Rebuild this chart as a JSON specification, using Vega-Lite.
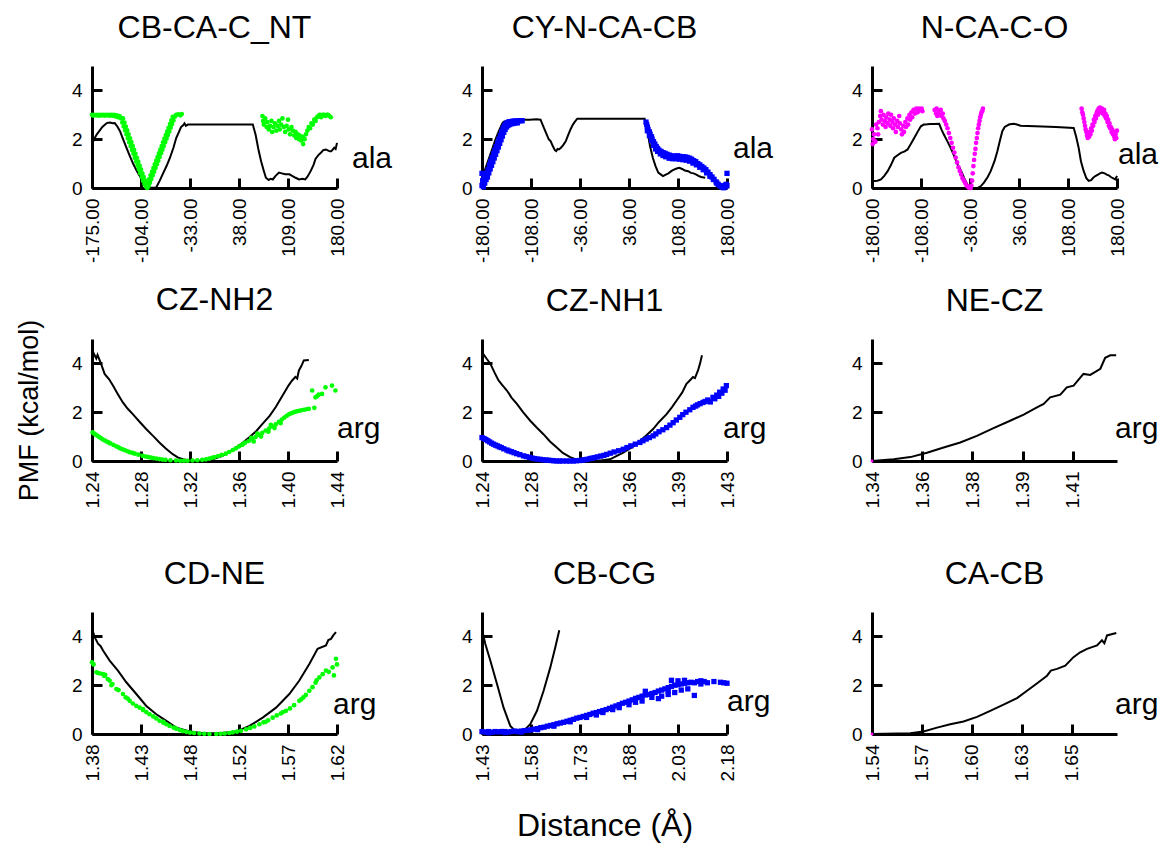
{
"$schema": "https://vega.github.io/schema/vega-lite/v6.json",
"padding": {"left": 15, "top": 12, "right": 5, "bottom": 5},
"config": {
  "font": "Liberation Sans",
  "view": {"stroke": null},
  "axis": {"grid": false, "domainColor": "#000", "domainWidth": 3, "tickColor": "#000", "tickWidth": 3, "tickSize": -10, "labelFont": "Liberation Sans", "labelFontSize": 19, "labelColor": "#000", "labelPadding": 20, "labelFlush": false, "labelOverlap": false, "titleFont": "Liberation Sans", "titleFontSize": 27, "titleFontWeight": "normal", "titleColor": "#000"},
  "axisX": {"labelAngle": -90},
  "title": {"font": "Liberation Sans", "fontSize": 32, "fontWeight": "normal", "color": "#000", "frame": "group", "offset": 21}
},
"datasets": {
  "p1_ref": [{"x":-175,"pmf":1.78},{"x":-172,"pmf":2.0},{"x":-168,"pmf":2.2},{"x":-164,"pmf":2.35},{"x":-160,"pmf":2.5},{"x":-156,"pmf":2.6},{"x":-153,"pmf":2.67},{"x":-149,"pmf":2.68},{"x":-145,"pmf":2.65},{"x":-142,"pmf":2.66},{"x":-139,"pmf":2.55},{"x":-137,"pmf":2.46},{"x":-134,"pmf":2.3},{"x":-130,"pmf":2.0},{"x":-125,"pmf":1.64},{"x":-120,"pmf":1.3},{"x":-115,"pmf":0.97},{"x":-110,"pmf":0.7},{"x":-105,"pmf":0.45},{"x":-101,"pmf":0.22},{"x":-97,"pmf":0.08},{"x":-93,"pmf":0.02},{"x":-88,"pmf":0.01},{"x":-82,"pmf":0.02},{"x":-77,"pmf":0.29},{"x":-72,"pmf":0.6},{"x":-67,"pmf":0.9},{"x":-62,"pmf":1.24},{"x":-57,"pmf":1.65},{"x":-53,"pmf":2.05},{"x":-49,"pmf":2.3},{"x":-46,"pmf":2.5},{"x":-43,"pmf":2.57},{"x":-41,"pmf":2.65},{"x":-39,"pmf":2.55},{"x":-36,"pmf":2.6},{"x":-20,"pmf":2.6},{"x":0,"pmf":2.6},{"x":20,"pmf":2.6},{"x":40,"pmf":2.6},{"x":58,"pmf":2.6},{"x":62,"pmf":2.19},{"x":66,"pmf":1.6},{"x":70,"pmf":1.1},{"x":74,"pmf":0.7},{"x":77,"pmf":0.42},{"x":81,"pmf":0.33},{"x":84,"pmf":0.38},{"x":87,"pmf":0.35},{"x":91,"pmf":0.5},{"x":96,"pmf":0.63},{"x":100,"pmf":0.6},{"x":105,"pmf":0.56},{"x":111,"pmf":0.56},{"x":115,"pmf":0.5},{"x":120,"pmf":0.42},{"x":125,"pmf":0.35},{"x":130,"pmf":0.38},{"x":134,"pmf":0.35},{"x":137,"pmf":0.45},{"x":142,"pmf":0.7},{"x":146,"pmf":0.95},{"x":149,"pmf":1.2},{"x":153,"pmf":1.35},{"x":157,"pmf":1.45},{"x":160,"pmf":1.55},{"x":164,"pmf":1.58},{"x":168,"pmf":1.52},{"x":171,"pmf":1.5},{"x":173,"pmf":1.55},{"x":176,"pmf":1.65},{"x":178,"pmf":1.6},{"x":180,"pmf":1.85}],
  "p1_sim": [{"x":-175,"pmf":3.0},{"x":-173,"pmf":2.97},{"x":-171,"pmf":3.0},{"x":-169,"pmf":2.98},{"x":-167,"pmf":3.0},{"x":-165,"pmf":2.96},{"x":-163,"pmf":3.0},{"x":-161,"pmf":2.98},{"x":-159,"pmf":3.0},{"x":-157,"pmf":2.97},{"x":-155,"pmf":3.0},{"x":-153,"pmf":2.98},{"x":-151,"pmf":3.0},{"x":-149,"pmf":2.96},{"x":-147,"pmf":3.0},{"x":-145,"pmf":2.97},{"x":-143,"pmf":3.0},{"x":-141,"pmf":2.93},{"x":-139,"pmf":2.98},{"x":-137,"pmf":2.9},{"x":-135,"pmf":2.95},
    {"x":-133,"pmf":2.85},{"x":-131,"pmf":2.68},{"x":-129,"pmf":2.52},{"x":-127,"pmf":2.36},{"x":-125,"pmf":2.2},{"x":-123,"pmf":2.04},{"x":-121,"pmf":1.88},{"x":-119,"pmf":1.72},{"x":-117,"pmf":1.56},{"x":-115,"pmf":1.4},{"x":-113,"pmf":1.24},{"x":-111,"pmf":1.08},{"x":-109,"pmf":0.92},{"x":-107,"pmf":0.76},{"x":-105,"pmf":0.6},{"x":-103,"pmf":0.45},{"x":-101,"pmf":0.3},{"x":-99,"pmf":0.16},{"x":-97,"pmf":0.06},{"x":-95,"pmf":0.0},
    {"x":-130,"pmf":2.85},{"x":-128,"pmf":2.68},{"x":-126,"pmf":2.52},{"x":-124,"pmf":2.36},{"x":-122,"pmf":2.2},{"x":-120,"pmf":2.04},{"x":-118,"pmf":1.88},{"x":-116,"pmf":1.72},{"x":-114,"pmf":1.56},{"x":-112,"pmf":1.4},{"x":-110,"pmf":1.24},{"x":-108,"pmf":1.08},{"x":-106,"pmf":0.92},{"x":-104,"pmf":0.76},{"x":-102,"pmf":0.6},{"x":-100,"pmf":0.45},{"x":-98,"pmf":0.3},{"x":-96,"pmf":0.16},{"x":-94,"pmf":0.06},
    {"x":-93,"pmf":0.08},{"x":-91,"pmf":0.22},{"x":-89,"pmf":0.37},{"x":-87,"pmf":0.52},{"x":-85,"pmf":0.67},{"x":-83,"pmf":0.82},{"x":-81,"pmf":0.97},{"x":-79,"pmf":1.12},{"x":-77,"pmf":1.27},{"x":-75,"pmf":1.42},{"x":-73,"pmf":1.57},{"x":-71,"pmf":1.72},{"x":-69,"pmf":1.87},{"x":-67,"pmf":2.02},{"x":-65,"pmf":2.17},{"x":-63,"pmf":2.32},{"x":-61,"pmf":2.47},{"x":-59,"pmf":2.62},{"x":-57,"pmf":2.77},{"x":-55,"pmf":2.92},{"x":-53,"pmf":3.0},{"x":-50,"pmf":3.02},{"x":-47,"pmf":2.98},{"x":-45,"pmf":3.03},
    {"x":-94,"pmf":0.22},{"x":-92,"pmf":0.37},{"x":-90,"pmf":0.52},{"x":-88,"pmf":0.67},{"x":-86,"pmf":0.82},{"x":-84,"pmf":0.97},{"x":-82,"pmf":1.12},{"x":-80,"pmf":1.27},{"x":-78,"pmf":1.42},{"x":-76,"pmf":1.57},{"x":-74,"pmf":1.72},{"x":-72,"pmf":1.87},{"x":-70,"pmf":2.02},{"x":-68,"pmf":2.17},{"x":-66,"pmf":2.32},{"x":-64,"pmf":2.47},{"x":-62,"pmf":2.62},{"x":-60,"pmf":2.77},{"x":-58,"pmf":2.92},
    {"x":72,"pmf":2.95},{"x":73,"pmf":2.75},{"x":74,"pmf":2.6},{"x":76,"pmf":2.85},{"x":78,"pmf":2.5},{"x":79,"pmf":2.7},{"x":81,"pmf":2.4},{"x":83,"pmf":2.55},{"x":85,"pmf":2.75},{"x":86,"pmf":2.3},{"x":88,"pmf":2.5},{"x":90,"pmf":2.65},{"x":92,"pmf":2.35},{"x":94,"pmf":2.55},{"x":96,"pmf":2.75},{"x":97,"pmf":2.4},{"x":99,"pmf":2.6},{"x":101,"pmf":2.85},{"x":103,"pmf":2.5},{"x":105,"pmf":2.3},{"x":107,"pmf":2.55},{"x":109,"pmf":2.8},{"x":110,"pmf":2.4},{"x":112,"pmf":2.2},{"x":114,"pmf":2.5},{"x":116,"pmf":2.35},{"x":118,"pmf":2.15},{"x":120,"pmf":2.3},{"x":121,"pmf":2.05},{"x":123,"pmf":2.2},{"x":125,"pmf":2.0},{"x":126,"pmf":2.15},{"x":128,"pmf":1.95},{"x":130,"pmf":2.1},{"x":131,"pmf":1.8},{"x":133,"pmf":2.0},{"x":135,"pmf":2.2},{"x":137,"pmf":2.35},{"x":139,"pmf":2.5},{"x":141,"pmf":2.45},{"x":143,"pmf":2.65},{"x":145,"pmf":2.6},{"x":147,"pmf":2.8},{"x":149,"pmf":2.75},{"x":151,"pmf":2.9},{"x":153,"pmf":2.95},{"x":155,"pmf":3.0},{"x":157,"pmf":2.9},{"x":159,"pmf":3.0},{"x":161,"pmf":3.0},{"x":163,"pmf":2.95},{"x":165,"pmf":3.0},{"x":167,"pmf":3.0},{"x":169,"pmf":2.95},{"x":171,"pmf":2.9}],
  "p2_ref": [{"x":-180,"pmf":0.35},{"x":-175,"pmf":0.8},{"x":-170,"pmf":1.2},{"x":-165,"pmf":1.6},{"x":-160,"pmf":2.0},{"x":-155,"pmf":2.35},{"x":-150,"pmf":2.65},{"x":-148,"pmf":2.72},{"x":-140,"pmf":2.75},{"x":-130,"pmf":2.78},{"x":-120,"pmf":2.8},{"x":-110,"pmf":2.8},{"x":-100,"pmf":2.82},{"x":-94,"pmf":2.8},{"x":-91,"pmf":2.6},{"x":-89,"pmf":2.46},{"x":-85,"pmf":2.2},{"x":-82,"pmf":2.0},{"x":-79,"pmf":1.91},{"x":-76,"pmf":1.72},{"x":-73,"pmf":1.55},{"x":-71,"pmf":1.51},{"x":-69,"pmf":1.6},{"x":-67,"pmf":1.58},{"x":-64,"pmf":1.65},{"x":-61,"pmf":1.75},{"x":-57,"pmf":1.91},{"x":-53,"pmf":2.2},{"x":-50,"pmf":2.4},{"x":-47,"pmf":2.57},{"x":-44,"pmf":2.7},{"x":-40,"pmf":2.84},{"x":-30,"pmf":2.84},{"x":0,"pmf":2.84},{"x":30,"pmf":2.84},{"x":59,"pmf":2.84},{"x":61,"pmf":2.6},{"x":64,"pmf":2.19},{"x":67,"pmf":1.7},{"x":71,"pmf":1.24},{"x":75,"pmf":0.9},{"x":79,"pmf":0.63},{"x":83,"pmf":0.55},{"x":86,"pmf":0.49},{"x":90,"pmf":0.55},{"x":94,"pmf":0.6},{"x":98,"pmf":0.69},{"x":102,"pmf":0.75},{"x":106,"pmf":0.8},{"x":110,"pmf":0.83},{"x":114,"pmf":0.78},{"x":118,"pmf":0.72},{"x":123,"pmf":0.69},{"x":127,"pmf":0.62},{"x":131,"pmf":0.6},{"x":135,"pmf":0.55},{"x":138,"pmf":0.5},{"x":142,"pmf":0.45},{"x":148,"pmf":0.42}],
  "p2_sim": [{"x":-180,"pmf":0.6},{"x":-180,"pmf":0.1},{"x":-179,"pmf":0.3},{"x":-178,"pmf":0.05},{"x":-177,"pmf":0.45},{"x":-176,"pmf":0.2},{"x":-175,"pmf":0.55},{"x":-174,"pmf":0.35},{"x":-173,"pmf":0.6},{"x":-171,"pmf":0.75},{"x":-169,"pmf":0.95},{"x":-167,"pmf":1.1},{"x":-165,"pmf":1.25},{"x":-163,"pmf":1.4},{"x":-161,"pmf":1.55},{"x":-159,"pmf":1.7},{"x":-157,"pmf":1.85},{"x":-155,"pmf":2.0},{"x":-153,"pmf":2.15},{"x":-151,"pmf":2.3},{"x":-149,"pmf":2.45},{"x":-147,"pmf":2.55},{"x":-145,"pmf":2.62},{"x":-143,"pmf":2.68},{"x":-141,"pmf":2.7},{"x":-139,"pmf":2.72},{"x":-137,"pmf":2.72},{"x":-135,"pmf":2.74},{"x":-132,"pmf":2.74},{"x":-129,"pmf":2.75},{"x":-126,"pmf":2.75},{"x":-123,"pmf":2.76},{"x":-121,"pmf":2.76},
    {"x":-172,"pmf":0.45},{"x":-170,"pmf":0.62},{"x":-168,"pmf":0.78},{"x":-166,"pmf":0.93},{"x":-164,"pmf":1.08},{"x":-162,"pmf":1.23},{"x":-160,"pmf":1.38},{"x":-158,"pmf":1.53},{"x":-156,"pmf":1.68},{"x":-154,"pmf":1.83},{"x":-152,"pmf":1.98},{"x":-150,"pmf":2.13},{"x":-148,"pmf":2.28},{"x":-146,"pmf":2.4},{"x":-144,"pmf":2.5},{"x":-142,"pmf":2.56},{"x":-140,"pmf":2.6},{"x":-138,"pmf":2.63},{"x":-135,"pmf":2.64},{"x":-132,"pmf":2.66},{"x":-128,"pmf":2.67},
    {"x":61,"pmf":2.7},{"x":62,"pmf":2.6},{"x":63,"pmf":2.5},{"x":64,"pmf":2.4},{"x":66,"pmf":2.3},{"x":67,"pmf":2.2},{"x":69,"pmf":2.1},{"x":70,"pmf":2.0},{"x":72,"pmf":1.9},{"x":74,"pmf":1.8},{"x":76,"pmf":1.7},{"x":78,"pmf":1.62},{"x":80,"pmf":1.55},{"x":83,"pmf":1.5},{"x":86,"pmf":1.45},{"x":89,"pmf":1.42},{"x":92,"pmf":1.38},{"x":95,"pmf":1.35},{"x":98,"pmf":1.32},{"x":101,"pmf":1.3},{"x":104,"pmf":1.3},{"x":107,"pmf":1.32},{"x":110,"pmf":1.3},{"x":113,"pmf":1.28},{"x":116,"pmf":1.28},{"x":119,"pmf":1.27},{"x":122,"pmf":1.25},{"x":125,"pmf":1.22},{"x":128,"pmf":1.18},{"x":131,"pmf":1.12},{"x":134,"pmf":1.08},{"x":137,"pmf":1.0},{"x":140,"pmf":0.95},{"x":143,"pmf":0.88},{"x":146,"pmf":0.82},{"x":149,"pmf":0.75},{"x":152,"pmf":0.65},{"x":155,"pmf":0.55},{"x":158,"pmf":0.45},{"x":161,"pmf":0.35},{"x":164,"pmf":0.25},{"x":167,"pmf":0.15},{"x":170,"pmf":0.08},{"x":173,"pmf":0.03},{"x":175,"pmf":0.01},{"x":177,"pmf":0.05},{"x":178,"pmf":0.12},{"x":179,"pmf":0.15},{"x":180,"pmf":0.1},{"x":180,"pmf":0.6},
    {"x":63,"pmf":2.35},{"x":66,"pmf":2.15},{"x":69,"pmf":1.95},{"x":72,"pmf":1.75},{"x":75,"pmf":1.6},{"x":78,"pmf":1.5},{"x":82,"pmf":1.4},{"x":86,"pmf":1.33},{"x":90,"pmf":1.28},{"x":95,"pmf":1.22},{"x":100,"pmf":1.2},{"x":105,"pmf":1.2},{"x":110,"pmf":1.18},{"x":115,"pmf":1.16},{"x":120,"pmf":1.14},{"x":125,"pmf":1.1},{"x":130,"pmf":1.02},{"x":135,"pmf":0.95},{"x":140,"pmf":0.85},{"x":145,"pmf":0.75},{"x":150,"pmf":0.62},{"x":155,"pmf":0.48},{"x":160,"pmf":0.35},{"x":165,"pmf":0.2},{"x":170,"pmf":0.1}],
  "p3_ref": [{"x":-180,"pmf":0.3},{"x":-176.6,"pmf":0.29},{"x":-172,"pmf":0.3},{"x":-166.8,"pmf":0.35},{"x":-162,"pmf":0.5},{"x":-157,"pmf":0.69},{"x":-152,"pmf":0.95},{"x":-147.3,"pmf":1.24},{"x":-142,"pmf":1.35},{"x":-137.5,"pmf":1.44},{"x":-132,"pmf":1.5},{"x":-127.7,"pmf":1.58},{"x":-123,"pmf":1.8},{"x":-118,"pmf":2.05},{"x":-113,"pmf":2.3},{"x":-108.2,"pmf":2.53},{"x":-104,"pmf":2.6},{"x":-100.9,"pmf":2.6},{"x":-95,"pmf":2.62},{"x":-88,"pmf":2.62},{"x":-81.3,"pmf":2.63},{"x":-78,"pmf":2.4},{"x":-74.4,"pmf":2.19},{"x":-69,"pmf":1.9},{"x":-64.3,"pmf":1.64},{"x":-59,"pmf":1.3},{"x":-54.4,"pmf":0.97},{"x":-49,"pmf":0.7},{"x":-44.8,"pmf":0.42},{"x":-40,"pmf":0.15},{"x":-37.4,"pmf":0.01},{"x":-31,"pmf":0.0},{"x":-25.1,"pmf":0.0},{"x":-20,"pmf":0.08},{"x":-15.5,"pmf":0.22},{"x":-10,"pmf":0.45},{"x":-5.6,"pmf":0.69},{"x":0,"pmf":1.1},{"x":4.2,"pmf":1.51},{"x":8,"pmf":1.95},{"x":11.5,"pmf":2.33},{"x":15,"pmf":2.5},{"x":21.2,"pmf":2.6},{"x":25,"pmf":2.62},{"x":28.5,"pmf":2.63},{"x":33,"pmf":2.6},{"x":38.3,"pmf":2.55},{"x":60,"pmf":2.53},{"x":90,"pmf":2.5},{"x":116.4,"pmf":2.46},{"x":120,"pmf":2.1},{"x":123.7,"pmf":1.64},{"x":127,"pmf":1.1},{"x":131.1,"pmf":0.69},{"x":135,"pmf":0.4},{"x":138.4,"pmf":0.29},{"x":142,"pmf":0.32},{"x":145,"pmf":0.42},{"x":148.2,"pmf":0.49},{"x":152,"pmf":0.55},{"x":155,"pmf":0.6},{"x":158,"pmf":0.63},{"x":162,"pmf":0.6},{"x":165,"pmf":0.55},{"x":167.7,"pmf":0.52},{"x":171,"pmf":0.45},{"x":174,"pmf":0.4},{"x":177.5,"pmf":0.35},{"x":180,"pmf":0.5}],
  "p3_sim": [{"x":-180,"pmf":2.4},{"x":-179,"pmf":1.8},{"x":-178,"pmf":2.0},{"x":-177,"pmf":2.2},{"x":-175,"pmf":1.9},{"x":-174,"pmf":2.6},{"x":-172,"pmf":2.45},{"x":-171,"pmf":2.2},{"x":-170,"pmf":2.7},{"x":-168,"pmf":2.95},{"x":-167,"pmf":3.15},{"x":-166,"pmf":2.8},{"x":-164,"pmf":2.6},{"x":-163,"pmf":3.0},{"x":-161,"pmf":2.75},{"x":-160,"pmf":2.5},{"x":-159,"pmf":2.9},{"x":-157,"pmf":2.65},{"x":-156,"pmf":3.05},{"x":-154,"pmf":2.8},{"x":-153,"pmf":2.55},{"x":-152,"pmf":3.0},{"x":-150,"pmf":2.7},{"x":-149,"pmf":2.45},{"x":-148,"pmf":2.85},{"x":-146,"pmf":2.6},{"x":-145,"pmf":2.3},{"x":-143,"pmf":2.75},{"x":-142,"pmf":2.5},{"x":-140,"pmf":2.95},{"x":-139,"pmf":2.65},{"x":-137,"pmf":2.4},{"x":-136,"pmf":2.2},{"x":-134,"pmf":2.55},{"x":-133,"pmf":2.3},{"x":-131,"pmf":2.7},{"x":-130,"pmf":2.5},{"x":-128,"pmf":2.85},{"x":-127,"pmf":2.6},{"x":-125,"pmf":3.0},{"x":-124,"pmf":2.8},{"x":-122,"pmf":3.1},{"x":-121,"pmf":2.9},{"x":-119,"pmf":3.2},{"x":-117,"pmf":3.05},{"x":-115,"pmf":3.25},{"x":-113,"pmf":3.1},{"x":-111,"pmf":3.25},{"x":-109,"pmf":3.2},{"x":-107,"pmf":3.25},{"x":-106,"pmf":3.15},
    {"x":-88,"pmf":3.2},{"x":-86,"pmf":3.05},{"x":-85,"pmf":3.25},{"x":-84,"pmf":2.95},{"x":-82,"pmf":3.15},{"x":-81,"pmf":3.0},{"x":-79,"pmf":3.2},{"x":-78,"pmf":2.95},{"x":-76,"pmf":3.05},{"x":-75,"pmf":2.85},{"x":-73,"pmf":2.75},{"x":-71,"pmf":2.6},{"x":-69,"pmf":2.45},{"x":-67,"pmf":2.25},{"x":-65,"pmf":2.05},{"x":-63,"pmf":1.85},{"x":-61,"pmf":1.65},{"x":-59,"pmf":1.45},{"x":-57,"pmf":1.25},{"x":-55,"pmf":1.05},{"x":-53,"pmf":0.85},{"x":-51,"pmf":0.7},{"x":-49,"pmf":0.55},{"x":-47,"pmf":0.4},{"x":-45,"pmf":0.3},{"x":-43,"pmf":0.2},{"x":-41,"pmf":0.1},{"x":-39,"pmf":0.05},{"x":-37,"pmf":0.0},{"x":-35,"pmf":0.0},{"x":-34,"pmf":0.1},{"x":-33,"pmf":0.3},{"x":-32,"pmf":0.6},{"x":-31,"pmf":0.9},{"x":-30,"pmf":1.15},{"x":-29,"pmf":1.4},{"x":-28,"pmf":1.6},{"x":-27,"pmf":1.85},{"x":-26,"pmf":2.05},{"x":-25,"pmf":2.25},{"x":-24,"pmf":2.45},{"x":-23,"pmf":2.6},{"x":-22,"pmf":2.75},{"x":-21,"pmf":2.9},{"x":-20,"pmf":3.0},{"x":-19,"pmf":3.1},{"x":-18,"pmf":3.15},{"x":-17,"pmf":3.25},
    {"x":128,"pmf":3.25},{"x":129,"pmf":3.1},{"x":130,"pmf":3.0},{"x":131,"pmf":2.85},{"x":132,"pmf":2.7},{"x":133,"pmf":2.55},{"x":134,"pmf":2.4},{"x":135,"pmf":2.3},{"x":136,"pmf":2.15},{"x":137,"pmf":2.05},{"x":138,"pmf":2.2},{"x":139,"pmf":2.1},{"x":140,"pmf":2.3},{"x":141,"pmf":2.2},{"x":142,"pmf":2.45},{"x":143,"pmf":2.35},{"x":144,"pmf":2.6},{"x":145,"pmf":2.55},{"x":146,"pmf":2.8},{"x":147,"pmf":2.7},{"x":148,"pmf":2.95},{"x":149,"pmf":2.85},{"x":150,"pmf":3.05},{"x":151,"pmf":3.15},{"x":152,"pmf":3.0},{"x":153,"pmf":3.25},{"x":154,"pmf":3.15},{"x":155,"pmf":3.3},{"x":156,"pmf":3.2},{"x":157,"pmf":3.1},{"x":158,"pmf":3.25},{"x":159,"pmf":3.05},{"x":160,"pmf":3.15},{"x":161,"pmf":3.2},{"x":162,"pmf":2.95},{"x":163,"pmf":3.05},{"x":164,"pmf":2.85},{"x":165,"pmf":2.95},{"x":166,"pmf":2.7},{"x":167,"pmf":2.8},{"x":168,"pmf":2.55},{"x":169,"pmf":2.65},{"x":170,"pmf":2.45},{"x":171,"pmf":2.5},{"x":172,"pmf":2.3},{"x":173,"pmf":2.4},{"x":174,"pmf":2.2},{"x":175,"pmf":2.3},{"x":176,"pmf":2.1},{"x":177,"pmf":2.0},{"x":178,"pmf":2.2},{"x":179,"pmf":2.05},{"x":180,"pmf":2.35}],
  "p4_ref": [{"x":1.2408,"pmf":4.47},{"x":1.2435,"pmf":4.2},{"x":1.2445,"pmf":4.35},{"x":1.2463,"pmf":4.12},{"x":1.248,"pmf":3.9},{"x":1.2503,"pmf":3.57},{"x":1.254,"pmf":3.35},{"x":1.2571,"pmf":3.09},{"x":1.261,"pmf":2.75},{"x":1.2652,"pmf":2.4},{"x":1.269,"pmf":2.15},{"x":1.2733,"pmf":1.92},{"x":1.279,"pmf":1.6},{"x":1.2842,"pmf":1.31},{"x":1.29,"pmf":1.02},{"x":1.295,"pmf":0.76},{"x":1.3,"pmf":0.52},{"x":1.3059,"pmf":0.28},{"x":1.31,"pmf":0.15},{"x":1.314,"pmf":0.07},{"x":1.3221,"pmf":0.0},{"x":1.3357,"pmf":0.02},{"x":1.3465,"pmf":0.21},{"x":1.352,"pmf":0.38},{"x":1.3574,"pmf":0.55},{"x":1.363,"pmf":0.75},{"x":1.3682,"pmf":0.96},{"x":1.374,"pmf":1.22},{"x":1.379,"pmf":1.51},{"x":1.385,"pmf":1.85},{"x":1.3899,"pmf":2.2},{"x":1.394,"pmf":2.55},{"x":1.398,"pmf":2.89},{"x":1.4005,"pmf":3.1},{"x":1.4034,"pmf":3.3},{"x":1.406,"pmf":3.45},{"x":1.4075,"pmf":3.38},{"x":1.4089,"pmf":3.71},{"x":1.411,"pmf":3.9},{"x":1.4129,"pmf":4.12},{"x":1.417,"pmf":4.14}],
  "p4_sim": [{"x":1.2405,"pmf":1.17},{"x":1.2418,"pmf":1.12},{"x":1.243,"pmf":1.08},{"x":1.2445,"pmf":1.03},{"x":1.246,"pmf":0.98},{"x":1.2475,"pmf":0.93},{"x":1.2489,"pmf":0.88},{"x":1.2505,"pmf":0.84},{"x":1.252,"pmf":0.8},{"x":1.2535,"pmf":0.76},{"x":1.255,"pmf":0.72},{"x":1.2575,"pmf":0.66},{"x":1.2598,"pmf":0.6},{"x":1.2615,"pmf":0.56},{"x":1.263,"pmf":0.52},{"x":1.265,"pmf":0.48},{"x":1.267,"pmf":0.44},{"x":1.269,"pmf":0.4},{"x":1.2707,"pmf":0.36},{"x":1.273,"pmf":0.33},{"x":1.275,"pmf":0.3},{"x":1.278,"pmf":0.26},{"x":1.2815,"pmf":0.21},{"x":1.284,"pmf":0.18},{"x":1.286,"pmf":0.16},{"x":1.288,"pmf":0.14},{"x":1.29,"pmf":0.12},{"x":1.2925,"pmf":0.1},{"x":1.295,"pmf":0.08},{"x":1.2975,"pmf":0.06},{"x":1.3,"pmf":0.05},{"x":1.304,"pmf":0.03},{"x":1.3086,"pmf":0.02},{"x":1.312,"pmf":0.01},{"x":1.315,"pmf":0.01},{"x":1.318,"pmf":0.01},{"x":1.3221,"pmf":0.02},{"x":1.326,"pmf":0.03},{"x":1.33,"pmf":0.05},{"x":1.333,"pmf":0.07},{"x":1.3357,"pmf":0.1},{"x":1.338,"pmf":0.13},{"x":1.34,"pmf":0.16},{"x":1.343,"pmf":0.2},{"x":1.346,"pmf":0.25},{"x":1.3493,"pmf":0.3},{"x":1.352,"pmf":0.37},{"x":1.355,"pmf":0.45},{"x":1.3575,"pmf":0.52},{"x":1.3601,"pmf":0.6},{"x":1.3625,"pmf":0.66},{"x":1.365,"pmf":0.75},{"x":1.368,"pmf":0.82},{"x":1.3709,"pmf":0.9},{"x":1.3735,"pmf":0.98},{"x":1.376,"pmf":1.08},{"x":1.379,"pmf":1.15},{"x":1.3818,"pmf":1.25},{"x":1.3845,"pmf":1.33},{"x":1.387,"pmf":1.42},{"x":1.39,"pmf":1.5},{"x":1.3926,"pmf":1.6},{"x":1.395,"pmf":1.7},{"x":1.397,"pmf":1.78},{"x":1.399,"pmf":1.85},{"x":1.401,"pmf":1.92},{"x":1.403,"pmf":1.96},{"x":1.405,"pmf":2.0},{"x":1.407,"pmf":2.03},{"x":1.409,"pmf":2.06},{"x":1.411,"pmf":2.08},{"x":1.413,"pmf":2.1},{"x":1.415,"pmf":2.12},{"x":1.417,"pmf":2.14},{"x":1.4197,"pmf":2.89},{"x":1.4224,"pmf":2.61},{"x":1.4215,"pmf":2.18},{"x":1.4237,"pmf":2.65},{"x":1.425,"pmf":2.72},{"x":1.4278,"pmf":2.75},{"x":1.4306,"pmf":3.02},{"x":1.4359,"pmf":3.09},{"x":1.4387,"pmf":2.89},{"x":1.372,"pmf":0.8},{"x":1.378,"pmf":1.0},{"x":1.384,"pmf":1.2},{"x":1.389,"pmf":1.35},{"x":1.394,"pmf":1.55},{"x":1.37,"pmf":0.95},{"x":1.375,"pmf":1.12},{"x":1.386,"pmf":1.48},{"x":1.363,"pmf":0.68}],
  "p5_ref": [{"x":1.2428,"pmf":4.4},{"x":1.2455,"pmf":4.2},{"x":1.2485,"pmf":3.99},{"x":1.252,"pmf":3.6},{"x":1.2549,"pmf":3.3},{"x":1.258,"pmf":3.1},{"x":1.2614,"pmf":2.89},{"x":1.265,"pmf":2.6},{"x":1.2692,"pmf":2.34},{"x":1.274,"pmf":2.0},{"x":1.2796,"pmf":1.65},{"x":1.285,"pmf":1.35},{"x":1.2899,"pmf":1.1},{"x":1.295,"pmf":0.8},{"x":1.3003,"pmf":0.55},{"x":1.305,"pmf":0.33},{"x":1.3107,"pmf":0.16},{"x":1.3184,"pmf":0.0},{"x":1.3314,"pmf":0.0},{"x":1.3418,"pmf":0.07},{"x":1.3521,"pmf":0.34},{"x":1.36,"pmf":0.6},{"x":1.3651,"pmf":0.82},{"x":1.37,"pmf":1.05},{"x":1.3754,"pmf":1.31},{"x":1.38,"pmf":1.6},{"x":1.3859,"pmf":1.92},{"x":1.39,"pmf":2.2},{"x":1.3936,"pmf":2.47},{"x":1.398,"pmf":2.8},{"x":1.4014,"pmf":3.16},{"x":1.404,"pmf":3.3},{"x":1.4065,"pmf":3.44},{"x":1.408,"pmf":3.4},{"x":1.4104,"pmf":3.71},{"x":1.412,"pmf":4.0},{"x":1.4135,"pmf":4.33}],
  "p5_sim": [{"x":1.242,"pmf":0.96},{"x":1.2435,"pmf":0.92},{"x":1.245,"pmf":0.88},{"x":1.2465,"pmf":0.83},{"x":1.248,"pmf":0.78},{"x":1.2495,"pmf":0.73},{"x":1.251,"pmf":0.69},{"x":1.2525,"pmf":0.65},{"x":1.254,"pmf":0.62},{"x":1.2555,"pmf":0.58},{"x":1.257,"pmf":0.55},{"x":1.259,"pmf":0.5},{"x":1.2614,"pmf":0.45},{"x":1.263,"pmf":0.41},{"x":1.265,"pmf":0.38},{"x":1.267,"pmf":0.34},{"x":1.269,"pmf":0.3},{"x":1.2715,"pmf":0.26},{"x":1.2744,"pmf":0.21},{"x":1.2765,"pmf":0.18},{"x":1.279,"pmf":0.15},{"x":1.281,"pmf":0.12},{"x":1.283,"pmf":0.1},{"x":1.285,"pmf":0.08},{"x":1.2873,"pmf":0.07},{"x":1.2895,"pmf":0.05},{"x":1.292,"pmf":0.04},{"x":1.294,"pmf":0.03},{"x":1.296,"pmf":0.02},{"x":1.298,"pmf":0.01},{"x":1.3003,"pmf":0.0},{"x":1.3025,"pmf":0.0},{"x":1.305,"pmf":0.0},{"x":1.308,"pmf":0.0},{"x":1.3105,"pmf":0.0},{"x":1.3132,"pmf":0.0},{"x":1.3155,"pmf":0.01},{"x":1.318,"pmf":0.02},{"x":1.32,"pmf":0.03},{"x":1.322,"pmf":0.05},{"x":1.324,"pmf":0.07},{"x":1.3262,"pmf":0.1},{"x":1.328,"pmf":0.12},{"x":1.33,"pmf":0.14},{"x":1.332,"pmf":0.17},{"x":1.3345,"pmf":0.2},{"x":1.337,"pmf":0.23},{"x":1.3392,"pmf":0.27},{"x":1.342,"pmf":0.32},{"x":1.345,"pmf":0.37},{"x":1.3485,"pmf":0.42},{"x":1.3521,"pmf":0.48},{"x":1.355,"pmf":0.55},{"x":1.358,"pmf":0.62},{"x":1.3615,"pmf":0.69},{"x":1.3651,"pmf":0.76},{"x":1.3675,"pmf":0.83},{"x":1.37,"pmf":0.9},{"x":1.3725,"pmf":0.96},{"x":1.3754,"pmf":1.03},{"x":1.3775,"pmf":1.11},{"x":1.38,"pmf":1.2},{"x":1.383,"pmf":1.28},{"x":1.3859,"pmf":1.37},{"x":1.3885,"pmf":1.47},{"x":1.391,"pmf":1.57},{"x":1.3935,"pmf":1.68},{"x":1.3962,"pmf":1.79},{"x":1.3985,"pmf":1.9},{"x":1.401,"pmf":2.0},{"x":1.404,"pmf":2.1},{"x":1.4065,"pmf":2.2},{"x":1.4085,"pmf":2.25},{"x":1.41,"pmf":2.3},{"x":1.412,"pmf":2.35},{"x":1.4143,"pmf":2.4},{"x":1.416,"pmf":2.44},{"x":1.418,"pmf":2.5},{"x":1.42,"pmf":2.42},{"x":1.4221,"pmf":2.61},{"x":1.4235,"pmf":2.55},{"x":1.425,"pmf":2.7},{"x":1.4265,"pmf":2.65},{"x":1.4273,"pmf":2.82},{"x":1.429,"pmf":2.78},{"x":1.43,"pmf":2.95},{"x":1.4315,"pmf":2.9},{"x":1.4325,"pmf":3.09}],
  "p6_ref": [{"x":1.34,"pmf":0.0},{"x":1.3477,"pmf":0.07},{"x":1.3536,"pmf":0.16},{"x":1.3595,"pmf":0.34},{"x":1.3654,"pmf":0.55},{"x":1.3713,"pmf":0.76},{"x":1.3772,"pmf":1.03},{"x":1.3831,"pmf":1.35},{"x":1.389,"pmf":1.65},{"x":1.3938,"pmf":1.9},{"x":1.3985,"pmf":2.2},{"x":1.4009,"pmf":2.34},{"x":1.4032,"pmf":2.61},{"x":1.4068,"pmf":2.72},{"x":1.4091,"pmf":3.02},{"x":1.4115,"pmf":3.09},{"x":1.415,"pmf":3.57},{"x":1.4174,"pmf":3.53},{"x":1.421,"pmf":3.78},{"x":1.4227,"pmf":4.23},{"x":1.4245,"pmf":4.33},{"x":1.4266,"pmf":4.33}],
  "p6_sim": [{"x":1.34,"pmf":0.0}],
  "p7_ref": [{"x":1.381,"pmf":4.18},{"x":1.3835,"pmf":3.9},{"x":1.3859,"pmf":3.7},{"x":1.3885,"pmf":3.6},{"x":1.3908,"pmf":3.42},{"x":1.3973,"pmf":3.01},{"x":1.4054,"pmf":2.6},{"x":1.4136,"pmf":2.12},{"x":1.4234,"pmf":1.64},{"x":1.4332,"pmf":1.15},{"x":1.443,"pmf":0.81},{"x":1.4528,"pmf":0.54},{"x":1.4625,"pmf":0.26},{"x":1.4756,"pmf":0.1},{"x":1.4886,"pmf":0.03},{"x":1.5049,"pmf":0.03},{"x":1.5212,"pmf":0.1},{"x":1.5342,"pmf":0.33},{"x":1.5472,"pmf":0.67},{"x":1.5603,"pmf":1.08},{"x":1.5733,"pmf":1.64},{"x":1.5831,"pmf":2.19},{"x":1.5929,"pmf":2.87},{"x":1.601,"pmf":3.49},{"x":1.6092,"pmf":3.63},{"x":1.6115,"pmf":3.85},{"x":1.6141,"pmf":3.9},{"x":1.6165,"pmf":4.05},{"x":1.619,"pmf":4.18}],
  "p7_sim": [{"x":1.38,"pmf":2.94},{"x":1.3815,"pmf":2.85},{"x":1.3843,"pmf":2.53},{"x":1.386,"pmf":2.5},{"x":1.388,"pmf":2.48},{"x":1.3908,"pmf":2.46},{"x":1.393,"pmf":2.42},{"x":1.3955,"pmf":2.25},{"x":1.3973,"pmf":2.19},{"x":1.4,"pmf":2.05},{"x":1.4039,"pmf":1.84},{"x":1.406,"pmf":1.8},{"x":1.4103,"pmf":1.64},{"x":1.413,"pmf":1.5},{"x":1.4169,"pmf":1.36},{"x":1.42,"pmf":1.25},{"x":1.4234,"pmf":1.15},{"x":1.4267,"pmf":1.08},{"x":1.43,"pmf":0.98},{"x":1.4332,"pmf":0.9},{"x":1.4364,"pmf":0.81},{"x":1.44,"pmf":0.72},{"x":1.443,"pmf":0.64},{"x":1.4462,"pmf":0.54},{"x":1.45,"pmf":0.46},{"x":1.4528,"pmf":0.4},{"x":1.456,"pmf":0.33},{"x":1.46,"pmf":0.26},{"x":1.4625,"pmf":0.22},{"x":1.466,"pmf":0.16},{"x":1.469,"pmf":0.12},{"x":1.4725,"pmf":0.09},{"x":1.476,"pmf":0.06},{"x":1.48,"pmf":0.04},{"x":1.4853,"pmf":0.02},{"x":1.49,"pmf":0.01},{"x":1.495,"pmf":0.0},{"x":1.5017,"pmf":0.0},{"x":1.506,"pmf":0.01},{"x":1.51,"pmf":0.02},{"x":1.5145,"pmf":0.04},{"x":1.5179,"pmf":0.07},{"x":1.522,"pmf":0.1},{"x":1.526,"pmf":0.13},{"x":1.531,"pmf":0.19},{"x":1.535,"pmf":0.25},{"x":1.539,"pmf":0.31},{"x":1.544,"pmf":0.4},{"x":1.548,"pmf":0.48},{"x":1.5525,"pmf":0.56},{"x":1.557,"pmf":0.67},{"x":1.561,"pmf":0.76},{"x":1.565,"pmf":0.84},{"x":1.5701,"pmf":0.95},{"x":1.574,"pmf":1.05},{"x":1.578,"pmf":1.18},{"x":1.5831,"pmf":1.36},{"x":1.587,"pmf":1.5},{"x":1.5895,"pmf":1.6},{"x":1.5929,"pmf":1.77},{"x":1.596,"pmf":1.92},{"x":1.599,"pmf":2.1},{"x":1.6027,"pmf":2.32},{"x":1.606,"pmf":2.45},{"x":1.6092,"pmf":2.6},{"x":1.612,"pmf":2.55},{"x":1.6157,"pmf":2.73},{"x":1.617,"pmf":2.4},{"x":1.619,"pmf":3.08},{"x":1.62,"pmf":2.85},{"x":1.392,"pmf":2.38},{"x":1.399,"pmf":2.0},{"x":1.415,"pmf":1.45},{"x":1.43,"pmf":1.02},{"x":1.45,"pmf":0.5},{"x":1.55,"pmf":0.5},{"x":1.567,"pmf":0.9},{"x":1.585,"pmf":1.42},{"x":1.6,"pmf":2.2}],
  "p8_ref": [{"x":1.4331,"pmf":4.1},{"x":1.44,"pmf":3.7},{"x":1.4554,"pmf":3.01},{"x":1.4759,"pmf":2.05},{"x":1.4961,"pmf":1.08},{"x":1.5166,"pmf":0.33},{"x":1.5319,"pmf":0.12},{"x":1.5472,"pmf":0.1},{"x":1.5625,"pmf":0.2},{"x":1.5778,"pmf":0.4},{"x":1.5983,"pmf":0.95},{"x":1.6186,"pmf":1.77},{"x":1.6391,"pmf":2.73},{"x":1.6544,"pmf":3.56},{"x":1.6666,"pmf":4.25}],
  "p8_sim": [{"x":1.43,"pmf":0.1},{"x":1.44,"pmf":0.08},{"x":1.45,"pmf":0.1},{"x":1.46,"pmf":0.07},{"x":1.47,"pmf":0.1},{"x":1.48,"pmf":0.09},{"x":1.49,"pmf":0.1},{"x":1.5,"pmf":0.1},{"x":1.51,"pmf":0.08},{"x":1.52,"pmf":0.1},{"x":1.53,"pmf":0.12},{"x":1.54,"pmf":0.1},{"x":1.55,"pmf":0.12},{"x":1.56,"pmf":0.14},{"x":1.57,"pmf":0.15},{"x":1.58,"pmf":0.17},{"x":1.59,"pmf":0.2},{"x":1.6,"pmf":0.22},{"x":1.61,"pmf":0.26},{"x":1.62,"pmf":0.28},{"x":1.63,"pmf":0.32},{"x":1.64,"pmf":0.35},{"x":1.65,"pmf":0.38},{"x":1.66,"pmf":0.42},{"x":1.67,"pmf":0.45},{"x":1.68,"pmf":0.48},{"x":1.69,"pmf":0.52},{"x":1.7,"pmf":0.56},{"x":1.71,"pmf":0.6},{"x":1.72,"pmf":0.65},{"x":1.73,"pmf":0.68},{"x":1.74,"pmf":0.72},{"x":1.75,"pmf":0.76},{"x":1.76,"pmf":0.8},{"x":1.77,"pmf":0.85},{"x":1.78,"pmf":0.88},{"x":1.79,"pmf":0.92},{"x":1.8,"pmf":0.96},{"x":1.81,"pmf":1.0},{"x":1.82,"pmf":1.05},{"x":1.83,"pmf":1.1},{"x":1.84,"pmf":1.15},{"x":1.85,"pmf":1.2},{"x":1.86,"pmf":1.26},{"x":1.87,"pmf":1.3},{"x":1.88,"pmf":1.35},{"x":1.89,"pmf":1.4},{"x":1.9,"pmf":1.46},{"x":1.91,"pmf":1.5},{"x":1.92,"pmf":1.55},{"x":1.93,"pmf":1.6},{"x":1.94,"pmf":1.62},{"x":1.95,"pmf":1.66},{"x":1.96,"pmf":1.7},{"x":1.97,"pmf":1.76},{"x":1.98,"pmf":1.8},{"x":1.99,"pmf":1.85},{"x":2.0,"pmf":1.9},{"x":2.01,"pmf":1.95},{"x":2.02,"pmf":2.0},{"x":2.03,"pmf":2.02},{"x":2.04,"pmf":2.05},{"x":2.05,"pmf":2.08},{"x":2.06,"pmf":2.1},{"x":2.07,"pmf":2.12},{"x":2.08,"pmf":2.1},{"x":2.09,"pmf":2.15},{"x":2.1,"pmf":2.18},{"x":2.11,"pmf":2.15},{"x":2.12,"pmf":2.1},{"x":2.14,"pmf":2.15},{"x":2.16,"pmf":2.12},{"x":2.17,"pmf":2.1},{"x":2.18,"pmf":2.08},{"x":1.75,"pmf":0.68},{"x":1.8,"pmf":0.88},{"x":1.85,"pmf":1.08},{"x":1.9,"pmf":1.3},{"x":1.95,"pmf":1.5},{"x":1.97,"pmf":1.45},{"x":2.0,"pmf":1.62},{"x":2.02,"pmf":1.7},{"x":2.04,"pmf":1.8},{"x":2.06,"pmf":1.85},{"x":2.08,"pmf":1.58},{"x":1.92,"pmf":1.35},{"x":1.98,"pmf":1.55},{"x":2.01,"pmf":2.2},{"x":2.03,"pmf":2.18},{"x":1.93,"pmf":1.75},{"x":1.88,"pmf":1.2},{"x":1.83,"pmf":1.0},{"x":1.78,"pmf":0.78},{"x":1.7,"pmf":0.5},{"x":1.65,"pmf":0.32},{"x":1.6,"pmf":0.18},{"x":1.55,"pmf":0.08},{"x":1.5,"pmf":0.06},{"x":1.45,"pmf":0.05},{"x":2.05,"pmf":2.2},{"x":2.1,"pmf":2.05},{"x":2.0,"pmf":1.75}],
  "p9_ref": [{"x":1.54,"pmf":0.0},{"x":1.5618,"pmf":0.03},{"x":1.5694,"pmf":0.1},{"x":1.5771,"pmf":0.26},{"x":1.5846,"pmf":0.4},{"x":1.5922,"pmf":0.51},{"x":1.5999,"pmf":0.7},{"x":1.6074,"pmf":0.95},{"x":1.615,"pmf":1.2},{"x":1.6227,"pmf":1.47},{"x":1.6284,"pmf":1.77},{"x":1.634,"pmf":2.07},{"x":1.6398,"pmf":2.39},{"x":1.642,"pmf":2.6},{"x":1.6455,"pmf":2.67},{"x":1.6502,"pmf":2.8},{"x":1.6549,"pmf":3.15},{"x":1.6587,"pmf":3.35},{"x":1.6626,"pmf":3.49},{"x":1.6683,"pmf":3.63},{"x":1.6711,"pmf":3.84},{"x":1.6725,"pmf":3.72},{"x":1.674,"pmf":4.04},{"x":1.6793,"pmf":4.14}],
  "p9_sim": [{"x":1.54,"pmf":0.0}]
},
"columns": 3,
"spacing": {"row": 151, "column": 145},
"bounds": "flush",
"concat": [
  {"width": 245, "height": 122, "title": "CB-CA-C_NT",
   "layer": [
     {"data": {"name": "p1_ref"}, "mark": {"type": "line", "color": "#000", "strokeWidth": 2},
      "encoding": {"x": {"field": "x", "type": "quantitative", "scale": {"domain": [-175, 180], "nice": false, "zero": false}, "axis": {"values": [-175, -104, -33, 38, 109, 180], "labelExpr": "replace(format(datum.value, '.2f'), '−', '-')", "title": null}},
                   "y": {"field": "pmf", "type": "quantitative", "scale": {"domain": [0, 5], "nice": false}, "axis": {"values": [0, 2, 4], "title": null}}}},
     {"data": {"name": "p1_sim"}, "mark": {"type": "point", "filled": true, "shape": "circle", "size": 22, "color": "#00ff00", "opacity": 1},
      "encoding": {"x": {"field": "x", "type": "quantitative"}, "y": {"field": "pmf", "type": "quantitative"}}},
     {"data": {"values": [{"label": "ala", "px": 180, "py": 0.83}]}, "mark": {"type": "text", "align": "left", "baseline": "alphabetic", "fontSize": 30, "dx": 15},
      "encoding": {"x": {"field": "px", "type": "quantitative"}, "y": {"field": "py", "type": "quantitative"}, "text": {"field": "label"}}}
   ]},
  {"width": 245, "height": 122, "title": "CY-N-CA-CB",
   "layer": [
     {"data": {"name": "p2_ref"}, "mark": {"type": "line", "color": "#000", "strokeWidth": 2},
      "encoding": {"x": {"field": "x", "type": "quantitative", "scale": {"domain": [-180, 180], "nice": false, "zero": false}, "axis": {"values": [-180, -108, -36, 36, 108, 180], "labelExpr": "replace(format(datum.value, '.2f'), '−', '-')", "title": null}},
                   "y": {"field": "pmf", "type": "quantitative", "scale": {"domain": [0, 5], "nice": false}, "axis": {"values": [0, 2, 4], "title": null}}}},
     {"data": {"name": "p2_sim"}, "mark": {"type": "point", "filled": true, "shape": "square", "size": 28, "color": "#0000ff", "opacity": 1},
      "encoding": {"x": {"field": "x", "type": "quantitative"}, "y": {"field": "pmf", "type": "quantitative"}}},
     {"data": {"values": [{"label": "ala", "px": 180, "py": 1.24}]}, "mark": {"type": "text", "align": "left", "baseline": "alphabetic", "fontSize": 30, "dx": 6},
      "encoding": {"x": {"field": "px", "type": "quantitative"}, "y": {"field": "py", "type": "quantitative"}, "text": {"field": "label"}}}
   ]},
  {"width": 245, "height": 122, "title": "N-CA-C-O",
   "layer": [
     {"data": {"name": "p3_ref"}, "mark": {"type": "line", "color": "#000", "strokeWidth": 2},
      "encoding": {"x": {"field": "x", "type": "quantitative", "scale": {"domain": [-180, 180], "nice": false, "zero": false}, "axis": {"values": [-180, -108, -36, 36, 108, 180], "labelExpr": "replace(format(datum.value, '.2f'), '−', '-')", "title": null}},
                   "y": {"field": "pmf", "type": "quantitative", "scale": {"domain": [0, 5], "nice": false}, "axis": {"values": [0, 2, 4], "title": null}}}},
     {"data": {"name": "p3_sim"}, "mark": {"type": "point", "filled": true, "shape": "circle", "size": 22, "color": "#ff00ff", "opacity": 1},
      "encoding": {"x": {"field": "x", "type": "quantitative"}, "y": {"field": "pmf", "type": "quantitative"}}},
     {"data": {"values": [{"label": "ala", "px": 180, "py": 0.97}]}, "mark": {"type": "text", "align": "left", "baseline": "alphabetic", "fontSize": 30, "dx": 1},
      "encoding": {"x": {"field": "px", "type": "quantitative"}, "y": {"field": "py", "type": "quantitative"}, "text": {"field": "label"}}}
   ]},
  {"width": 245, "height": 122, "title": {"text": "CZ-NH2", "offset": 2},
   "layer": [
     {"data": {"name": "p4_ref"}, "mark": {"type": "line", "color": "#000", "strokeWidth": 2},
      "encoding": {"x": {"field": "x", "type": "quantitative", "scale": {"domain": [1.24, 1.44], "nice": false, "zero": false}, "axis": {"values": [1.24, 1.28, 1.32, 1.36, 1.4, 1.44], "format": ".2f", "title": null}},
                   "y": {"field": "pmf", "type": "quantitative", "scale": {"domain": [0, 5], "nice": false}, "axis": {"values": [0, 2, 4], "title": "PMF (kcal/mol)", "titlePadding": 28, "titleY": 71}}}},
     {"data": {"name": "p4_sim"}, "mark": {"type": "point", "filled": true, "shape": "circle", "size": 22, "color": "#00ff00", "opacity": 1},
      "encoding": {"x": {"field": "x", "type": "quantitative"}, "y": {"field": "pmf", "type": "quantitative"}}},
     {"data": {"values": [{"label": "arg", "px": 1.44, "py": 0.96}]}, "mark": {"type": "text", "align": "left", "baseline": "alphabetic", "fontSize": 30, "dx": 0},
      "encoding": {"x": {"field": "px", "type": "quantitative"}, "y": {"field": "py", "type": "quantitative"}, "text": {"field": "label"}}}
   ]},
  {"width": 245, "height": 122, "title": "CZ-NH1",
   "layer": [
     {"data": {"name": "p5_ref"}, "mark": {"type": "line", "color": "#000", "strokeWidth": 2},
      "encoding": {"x": {"field": "x", "type": "quantitative", "scale": {"domain": [1.242, 1.433], "nice": false, "zero": false}, "axis": {"values": [1.242, 1.2802, 1.3184, 1.3566, 1.3948, 1.433], "format": ".2f", "title": null}},
                   "y": {"field": "pmf", "type": "quantitative", "scale": {"domain": [0, 5], "nice": false}, "axis": {"values": [0, 2, 4], "title": null}}}},
     {"data": {"name": "p5_sim"}, "mark": {"type": "point", "filled": true, "shape": "square", "size": 28, "color": "#0000ff", "opacity": 1},
      "encoding": {"x": {"field": "x", "type": "quantitative"}, "y": {"field": "pmf", "type": "quantitative"}}},
     {"data": {"values": [{"label": "arg", "px": 1.433, "py": 0.96}]}, "mark": {"type": "text", "align": "left", "baseline": "alphabetic", "fontSize": 30, "dx": -4},
      "encoding": {"x": {"field": "px", "type": "quantitative"}, "y": {"field": "py", "type": "quantitative"}, "text": {"field": "label"}}}
   ]},
  {"width": 245, "height": 122, "title": "NE-CZ",
   "layer": [
     {"data": {"name": "p6_ref"}, "mark": {"type": "line", "color": "#000", "strokeWidth": 2},
      "encoding": {"x": {"field": "x", "type": "quantitative", "scale": {"domain": [1.34, 1.4269], "nice": false, "zero": false}, "axis": {"values": [1.34, 1.3578, 1.3756, 1.3934, 1.4112], "format": ".2f", "title": null}},
                   "y": {"field": "pmf", "type": "quantitative", "scale": {"domain": [0, 5], "nice": false}, "axis": {"values": [0, 2, 4], "title": null}}}},
     {"data": {"name": "p6_sim"}, "mark": {"type": "point", "filled": true, "shape": "circle", "size": 8, "color": "#ff00ff", "opacity": 1},
      "encoding": {"x": {"field": "x", "type": "quantitative"}, "y": {"field": "pmf", "type": "quantitative"}}},
     {"data": {"values": [{"label": "arg", "px": 1.4269, "py": 0.96}]}, "mark": {"type": "text", "align": "left", "baseline": "alphabetic", "fontSize": 30, "dx": -2},
      "encoding": {"x": {"field": "px", "type": "quantitative"}, "y": {"field": "py", "type": "quantitative"}, "text": {"field": "label"}}}
   ]},
  {"width": 245, "height": 122, "title": "CD-NE",
   "layer": [
     {"data": {"name": "p7_ref"}, "mark": {"type": "line", "color": "#000", "strokeWidth": 2},
      "encoding": {"x": {"field": "x", "type": "quantitative", "scale": {"domain": [1.38, 1.62], "nice": false, "zero": false}, "axis": {"values": [1.38, 1.428, 1.476, 1.524, 1.572, 1.62], "format": ".2f", "title": null}},
                   "y": {"field": "pmf", "type": "quantitative", "scale": {"domain": [0, 5], "nice": false}, "axis": {"values": [0, 2, 4], "title": null}}}},
     {"data": {"name": "p7_sim"}, "mark": {"type": "point", "filled": true, "shape": "circle", "size": 22, "color": "#00ff00", "opacity": 1},
      "encoding": {"x": {"field": "x", "type": "quantitative"}, "y": {"field": "pmf", "type": "quantitative"}}},
     {"data": {"values": [{"label": "arg", "px": 1.62, "py": 0.82}]}, "mark": {"type": "text", "align": "left", "baseline": "alphabetic", "fontSize": 30, "dx": -4},
      "encoding": {"x": {"field": "px", "type": "quantitative"}, "y": {"field": "py", "type": "quantitative"}, "text": {"field": "label"}}}
   ]},
  {"width": 245, "height": 122, "title": "CB-CG",
   "layer": [
     {"data": {"name": "p8_ref"}, "mark": {"type": "line", "color": "#000", "strokeWidth": 2},
      "encoding": {"x": {"field": "x", "type": "quantitative", "scale": {"domain": [1.43, 2.18], "nice": false, "zero": false}, "axis": {"values": [1.43, 1.58, 1.73, 1.88, 2.03, 2.18], "format": ".2f", "title": "Distance (Å)", "titlePadding": 30, "titleFontSize": 32}},
                   "y": {"field": "pmf", "type": "quantitative", "scale": {"domain": [0, 5], "nice": false}, "axis": {"values": [0, 2, 4], "title": null}}}},
     {"data": {"name": "p8_sim"}, "mark": {"type": "point", "filled": true, "shape": "square", "size": 28, "color": "#0000ff", "opacity": 1},
      "encoding": {"x": {"field": "x", "type": "quantitative"}, "y": {"field": "pmf", "type": "quantitative"}}},
     {"data": {"values": [{"label": "arg", "px": 2.18, "py": 0.93}]}, "mark": {"type": "text", "align": "left", "baseline": "alphabetic", "fontSize": 30, "dx": 0},
      "encoding": {"x": {"field": "px", "type": "quantitative"}, "y": {"field": "py", "type": "quantitative"}, "text": {"field": "label"}}}
   ]},
  {"width": 245, "height": 122, "title": "CA-CB",
   "layer": [
     {"data": {"name": "p9_ref"}, "mark": {"type": "line", "color": "#000", "strokeWidth": 2},
      "encoding": {"x": {"field": "x", "type": "quantitative", "scale": {"domain": [1.54, 1.6797], "nice": false, "zero": false}, "axis": {"values": [1.54, 1.5685, 1.597, 1.6255, 1.654], "format": ".2f", "title": null}},
                   "y": {"field": "pmf", "type": "quantitative", "scale": {"domain": [0, 5], "nice": false}, "axis": {"values": [0, 2, 4], "title": null}}}},
     {"data": {"name": "p9_sim"}, "mark": {"type": "point", "filled": true, "shape": "circle", "size": 8, "color": "#ff00ff", "opacity": 1},
      "encoding": {"x": {"field": "x", "type": "quantitative"}, "y": {"field": "pmf", "type": "quantitative"}}},
     {"data": {"values": [{"label": "arg", "px": 1.6797, "py": 0.81}]}, "mark": {"type": "text", "align": "left", "baseline": "alphabetic", "fontSize": 30, "dx": -2},
      "encoding": {"x": {"field": "px", "type": "quantitative"}, "y": {"field": "py", "type": "quantitative"}, "text": {"field": "label"}}}
   ]}
]
}
